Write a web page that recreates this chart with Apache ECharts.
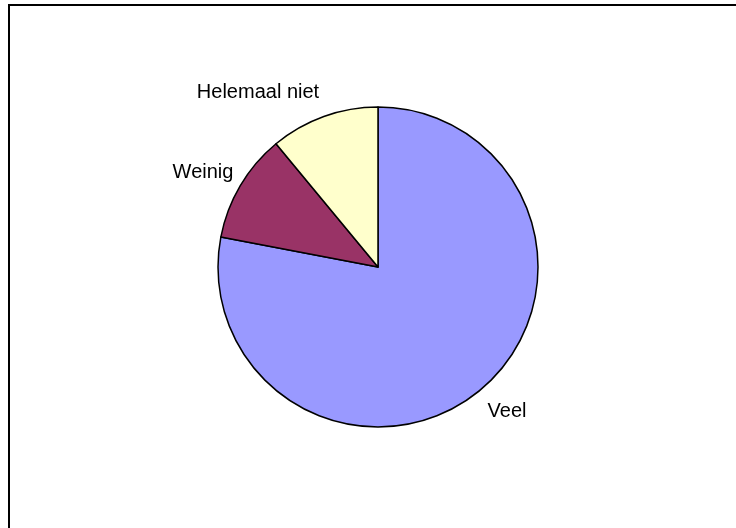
<!DOCTYPE html>
<html>
<head>
<meta charset="utf-8">
<script src="https://cdn.jsdelivr.net/npm/echarts@6/dist/echarts.min.js"></script>
<style>
html,body{margin:0;padding:0;background:#fff;}
#c{width:736px;height:528px;}
</style>
</head>
<body>
<div id="c"></div>
<script>
var categories = ["Veel", "Weinig", "Helemaal niet"];
var values = [78, 11, 11];
var colors = ["#9999FF", "#993366", "#FFFFCC"];

var labelSpots = {
  "Veel": [507, 411],
  "Weinig": [203, 172],
  "Helemaal niet": [258, 92]
};

var chart = echarts.init(document.getElementById('c'), null, {renderer: 'canvas'});
chart.setOption({
  animation: false,
  backgroundColor: '#ffffff',
  graphic: [{
    type: 'rect',
    shape: {x: 9, y: 5, width: 800, height: 600},
    style: {fill: 'none', stroke: '#000', lineWidth: 2},
    silent: true,
    z: 10
  }],
  series: [{
    type: 'pie',
    center: [378, 267],
    radius: [0, 160],
    startAngle: 90,
    clockwise: true,
    avoidLabelOverlap: false,
    data: categories.map(function (n, i) {
      return {name: n, value: values[i], itemStyle: {color: colors[i]}};
    }),
    itemStyle: {borderColor: '#000', borderWidth: 1.5},
    label: {
      show: true,
      position: 'outside',
      formatter: '{b}',
      color: '#000',
      fontFamily: 'Liberation Sans, Arial, sans-serif',
      fontSize: 20
    },
    labelLine: {show: false},
    labelLayout: function (p) {
      var name = categories[p.dataIndex];
      var s = labelSpots[name];
      return {x: s[0], y: s[1], align: 'center', verticalAlign: 'middle'};
    },
    emphasis: {disabled: true}
  }]
});
</script>
</body>
</html>
